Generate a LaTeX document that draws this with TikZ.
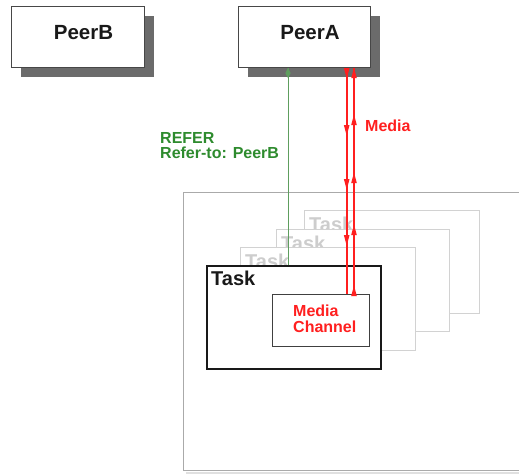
\documentclass[tikz,border=0pt]{standalone}
\usepackage{fontspec}
\setmainfont{Liberation Sans}
\usetikzlibrary{shadows,decorations.markings,calc}
\definecolor{redc}{HTML}{FF1F1F}
\definecolor{greentext}{HTML}{2E8B2E}
\definecolor{greenline}{HTML}{5E9E5E}
\definecolor{ghostc}{HTML}{D2D2D2}
\definecolor{ghosttext}{HTML}{CDCDCD}
\definecolor{contc}{HTML}{AAAAAA}
\newcommand\myredhead{\fill[redc] (0.5pt,0pt) -- (-10pt,-2.8pt) -- (-10pt,2.8pt) -- cycle;}
\newcommand\mygreenhead{\fill[greenline] (0.5pt,0pt) -- (-5pt,-2.6pt) -- (-10pt,0pt) -- (-5pt,2.6pt) -- cycle;}
\begin{document}
\begin{tikzpicture}[x=1pt,y=-1pt,
  peerbox/.style={draw=black!72, line width=1.2pt, fill=white, anchor=north west, inner sep=0pt,
    minimum width=133pt, minimum height=61pt,
    drop shadow={shadow xshift=9pt, shadow yshift=-9pt, fill=black!58, opacity=1}},
  peertext/.style={anchor=base, inner sep=0pt, font=\fontsize{20.5}{20.5}\selectfont\bfseries, text=black!90},
  ghostbox/.style={draw=ghostc, line width=1.3pt, fill=white, anchor=north west, inner sep=0pt,
    minimum width=175pt, minimum height=103pt},
  ghostlabel/.style={anchor=base west, inner sep=0pt, font=\fontsize{20}{20}\selectfont\bfseries, text=ghosttext},
  taskbox/.style={draw=black!90, line width=1.5pt, fill=white, anchor=north west, inner sep=0pt,
    minimum width=174pt, minimum height=103pt},
  tasklabel/.style={anchor=base west, inner sep=0pt, font=\fontsize{20}{20}\selectfont\bfseries, text=black!90},
  mcbox/.style={draw=black!75, line width=1.3pt, fill=white, anchor=north west, inner sep=0pt,
    minimum width=97pt, minimum height=52pt},
  redtext/.style={inner sep=0pt, font=\fontsize{16}{16}\selectfont\bfseries, text=redc, align=left},
  greentxt/.style={inner sep=0pt, font=\fontsize{16}{15}\selectfont\bfseries, text=greentext, align=left},
  redline/.style={draw=redc, line width=1.6pt},
  grline/.style={draw=greenline, line width=1pt}
]
\useasboundingbox (0,0) rectangle (519,475);

% peers
\node[peerbox] (PeerB) at (11,6) {};
\node[peertext] (PeerBt) at (83.5,39) {PeerB};
\node[peerbox, minimum width=132pt] (PeerA) at (238,6) {};
\node[peertext] (PeerAt) at (310,39) {PeerA};

% container
\fill[black!12] (186,471.5) rectangle (530,474);
\node[draw=contc, line width=1.3pt, fill=white, anchor=north west, inner sep=0pt,
  minimum width=350pt, minimum height=278pt] (Cont) at (183,192) {};

% ghost tasks (back to front)
\node[ghostbox] (G3) at (304,210) {};
\node[ghostlabel] (G3l) at ($(G3.north west)+(5,21)$) {Task};
\node[ghostbox, minimum width=173pt, minimum height=102pt] (G2) at (276,229) {};
\node[ghostlabel] (G2l) at ($(G2.north west)+(5,21)$) {Task};
\node[ghostbox] (G1) at (240,247) {};
\node[ghostlabel] (G1l) at ($(G1.north west)+(5,21)$) {Task};

% task
\node[taskbox] (Task) at (206,265) {};
\node[tasklabel] (Taskl) at ($(Task.north west)+(5,20)$) {Task};

% media channel
\node[mcbox] (MC) at (272,294) {};
\node[redtext, anchor=north west] (MCt) at (293,304.5) {Media\\Channel};

% connectors
\coordinate (gx) at (288,0);
\coordinate (rl) at (346.7,0);
\coordinate (rr) at (354,0);

\draw[grline, postaction={decorate}, decoration={markings,
   mark=at position 1 with {\mygreenhead}}]
  (Task.north -| gx) -- (PeerA.south -| gx);

\draw[redline, postaction={decorate}, decoration={markings,
   mark=at position 10pt with {\myredhead},
   mark=at position 67pt with {\myredhead},
   mark=at position 121pt with {\myredhead},
   mark=at position 177pt with {\myredhead}}]
  (PeerA.south -| rl) -- (MC.north -| rl);

\draw[redline, postaction={decorate}, decoration={markings,
   mark=at position 8pt with {\myredhead},
   mark=at position 69pt with {\myredhead},
   mark=at position 121pt with {\myredhead},
   mark=at position 179pt with {\myredhead},
   mark=at position 1 with {\myredhead}}]
  (MC.north -| rr) -- (PeerA.south -| rr);

% labels
\node[redtext, anchor=base west] (MediaLbl) at (365,131) {Media};
\node[greentxt, anchor=north west] (ReferLbl) at (160,131.8) {REFER\\Refer-to: PeerB};
\end{tikzpicture}
\end{document}
